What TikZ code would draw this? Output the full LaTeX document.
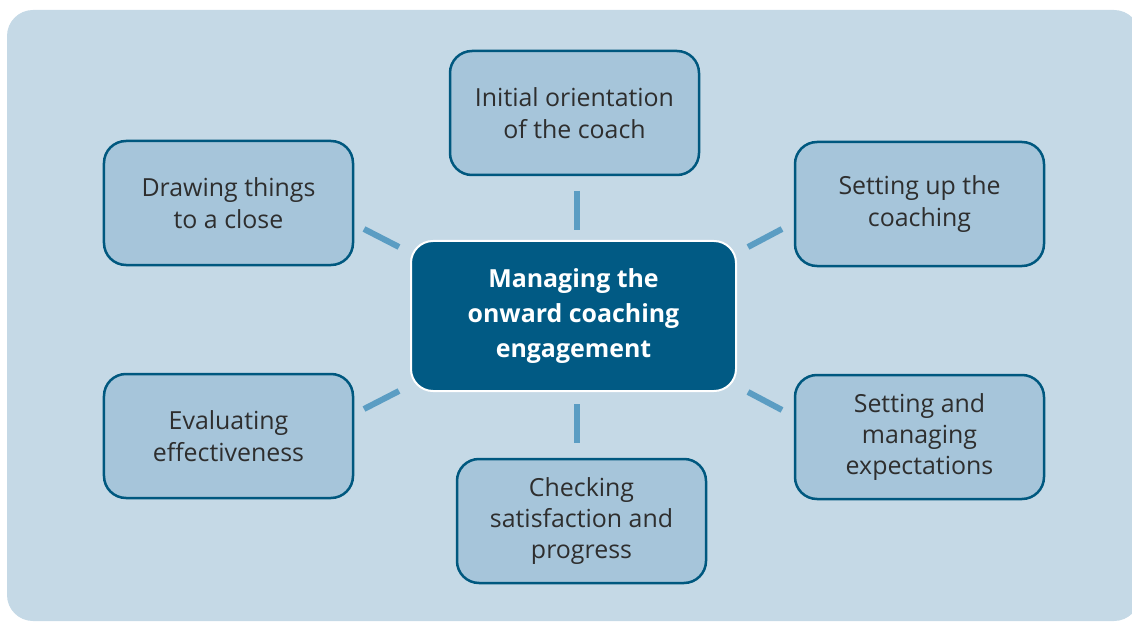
\documentclass[tikz,border=0pt]{standalone}
\usepackage{fontspec}
\setmainfont{Open Sans}
\definecolor{bgblue}{HTML}{C5D9E6}
\definecolor{boxfill}{HTML}{A6C5DA}
\definecolor{boxline}{HTML}{00587F}
\definecolor{centerfill}{HTML}{015A84}
\definecolor{conn}{HTML}{5B9DC3}
\definecolor{txt}{HTML}{2E2E2E}
\begin{document}
\begin{tikzpicture}[x=1bp,y=-1bp,
  outerbox/.style={draw=boxline,line width=2.5bp,fill=boxfill,rounded corners=22bp,
    minimum width=249bp,minimum height=124bp,align=center,text=txt,
    font=\fontsize{25}{31.5}\selectfont,inner sep=0pt},
  centerbox/.style={draw=white,line width=2bp,fill=centerfill,rounded corners=22bp,
    minimum width=325bp,minimum height=150bp,align=center,text=white,
    font=\bfseries\fontsize{25}{35}\selectfont,inner sep=0pt},
  connline/.style={draw=conn,line width=6bp}]
\useasboundingbox (0,0) rectangle (1132,622);
\fill[bgblue,rounded corners=26bp] (7,10) rectangle (1140,621);
\node[centerbox] (c) at (573.5,316) {Managing the\\onward coaching\\engagement};
\node[outerbox] (t) at (574.5,113) {Initial orientation\\of the coach};
\node[outerbox] (lt) at (228.5,203) {Drawing things\\to a close};
\node[outerbox] (rt) at (919.5,204) {Setting up the\\coaching};
\node[outerbox] (lb) at (228.5,436) {Evaluating\\effectiveness};
\node[outerbox] (rb) at (919.5,437) {Setting and\\managing\\expectations};
\node[outerbox] (b) at (581.5,521) {Checking\\satisfaction and\\progress};
\coordinate (t1) at (577,191); \coordinate (t2) at (577,230);
\coordinate (b1) at (577,404); \coordinate (b2) at (577,443);
\coordinate (lt1) at (364,229); \coordinate (lt2) at (399,247);
\coordinate (lb1) at (364,409); \coordinate (lb2) at (399,391);
\coordinate (rt1) at (782,229); \coordinate (rt2) at (748,247);
\coordinate (rb1) at (782,410); \coordinate (rb2) at (748,392);
\draw[connline] (t1) -- (t2);
\draw[connline] (b1) -- (b2);
\draw[connline] (lt1) -- (lt2);
\draw[connline] (lb1) -- (lb2);
\draw[connline] (rt1) -- (rt2);
\draw[connline] (rb1) -- (rb2);
\end{tikzpicture}
\end{document}
